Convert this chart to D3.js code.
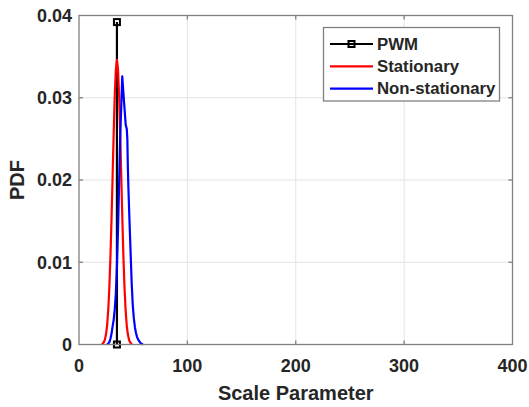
<!DOCTYPE html>
<html>
<head>
<meta charset="utf-8">
<script src="https://cdn.jsdelivr.net/npm/d3@7"></script>
<style>
  body { margin: 0; background: #fff; }
  svg text { font-family: "Liberation Sans", Arial, sans-serif; font-weight: bold; fill: #262626; }
</style>
</head>
<body>
<svg id="chart"></svg>
<script>
// tick values
const xTicks = [0, 100, 200, 300, 400];
const yTicks = [0, 0.01, 0.02, 0.03, 0.04];

// series names (legend order)
const seriesNames = ['PWM', 'Stationary', 'Non-stationary'];

// PWM estimate (vertical stem)
const pwmX = [35, 35];
const pwmY = [0, 0.0392];

// stationary PDF
const statX = [21, 22, 23, 24, 25, 26, 27, 28, 29, 30, 31, 32, 33, 34, 35,
	36, 37, 38, 39, 40, 41, 42, 43, 44, 45, 46, 47, 48, 49];
const statY = [0.00005, 0.00013, 0.0003, 0.00065, 0.0013, 0.0024, 0.0042, 0.0069, 0.0106, 0.0152,
	0.0204, 0.0257, 0.0303, 0.0334, 0.0346, 0.0334, 0.0303, 0.0257, 0.0204, 0.0152,
	0.0106, 0.0069, 0.0042, 0.0024, 0.0013, 0.00065, 0.0003, 0.00013, 0.00005];

// non-stationary PDF
const nonstatX = [26, 27, 28, 29, 30, 31, 32, 33, 34, 35, 36, 37, 38, 39, 39.9,
	41.5, 43.1, 44.1, 44.6, 45.1, 45.6, 46.6, 47.6, 48.6, 49.6, 50.6, 51.6, 52.6,
	53.6, 54.6, 55.6, 56.6, 57.6, 59];
const nonstatY = [0, 0.0001, 0.0003, 0.0007, 0.0013, 0.0022, 0.003, 0.0043, 0.0062, 0.0095,
	0.014, 0.0195, 0.0252, 0.029, 0.0326, 0.0296, 0.0267, 0.0262, 0.025, 0.0215,
	0.019, 0.015, 0.0112, 0.0075, 0.0048, 0.0032, 0.0021, 0.0014, 0.0009, 0.0006,
	0.0004, 0.0002, 0.0001, 0];

const width = 529, height = 407;
const plotL = 79, plotR = 512.5, plotT = 15.5, plotB = 344.5;

const svg = d3.select('#chart')
	.attr('width', width)
	.attr('height', height);

const x = d3.scaleLinear().domain([0, 400]).range([plotL, plotR]);
const y = d3.scaleLinear().domain([0, 0.04]).range([plotB, plotT]);

// grid
const grid = svg.append('g');
grid.selectAll('line.gx')
	.data(xTicks.slice(1, -1))
	.join('line')
	.attr('class', 'gx')
	.attr('x1', d => x(d)).attr('x2', d => x(d))
	.attr('y1', plotT).attr('y2', plotB)
	.attr('stroke', '#e3e3e3').attr('stroke-width', 1);
grid.selectAll('line.gy')
	.data(yTicks.slice(1, -1))
	.join('line')
	.attr('class', 'gy')
	.attr('x1', plotL).attr('x2', plotR)
	.attr('y1', d => y(d)).attr('y2', d => y(d))
	.attr('stroke', '#e3e3e3').attr('stroke-width', 1);

// curves
const line = d3.line().x(d => x(d[0])).y(d => y(d[1]));
const series = [
	{ name: seriesNames[0], xs: pwmX, ys: pwmY, color: '#000000' },
	{ name: seriesNames[1], xs: statX, ys: statY, color: '#ff0000' },
	{ name: seriesNames[2], xs: nonstatX, ys: nonstatY, color: '#0000ff' }
];
series.forEach(s => {
	svg.append('path')
		.datum(d3.zip(s.xs, s.ys))
		.attr('d', line)
		.attr('fill', 'none')
		.attr('stroke', s.color)
		.attr('stroke-width', 2.2)
		.attr('stroke-linejoin', 'round');
});

// PWM square markers
svg.append('g')
	.selectAll('rect')
	.data(d3.zip(pwmX, pwmY))
	.join('rect')
	.attr('x', d => x(d[0]) - 3)
	.attr('y', d => y(d[1]) - 3)
	.attr('width', 6).attr('height', 6)
	.attr('fill', 'none')
	.attr('stroke', '#000')
	.attr('stroke-width', 2);

// axes box
svg.append('rect')
	.attr('x', plotL).attr('y', plotT)
	.attr('width', plotR - plotL).attr('height', plotB - plotT)
	.attr('fill', 'none')
	.attr('stroke', '#808080')
	.attr('stroke-width', 1.3);

// inner ticks
const tickLen = 4;
const ticks = svg.append('g').attr('stroke', '#808080').attr('stroke-width', 1.3);
xTicks.slice(1, -1).forEach(d => {
	ticks.append('line').attr('x1', x(d)).attr('x2', x(d)).attr('y1', plotB).attr('y2', plotB - tickLen);
	ticks.append('line').attr('x1', x(d)).attr('x2', x(d)).attr('y1', plotT).attr('y2', plotT + tickLen);
});
yTicks.slice(1, -1).forEach(d => {
	ticks.append('line').attr('x1', plotL).attr('x2', plotL + tickLen).attr('y1', y(d)).attr('y2', y(d));
	ticks.append('line').attr('x1', plotR).attr('x2', plotR - tickLen).attr('y1', y(d)).attr('y2', y(d));
});

// tick labels
svg.append('g')
	.selectAll('text')
	.data(xTicks)
	.join('text')
	.attr('x', d => x(d))
	.attr('y', 372)
	.attr('text-anchor', 'middle')
	.style('font-size', '18px')
	.text(d => d);
svg.append('g')
	.selectAll('text')
	.data(yTicks)
	.join('text')
	.attr('x', 72)
	.attr('y', d => y(d))
	.attr('dy', '0.35em')
	.attr('text-anchor', 'end')
	.style('font-size', '18px')
	.text(d => d === 0 ? '0' : d.toFixed(2));

// axis titles
svg.append('text')
	.attr('x', (plotL + plotR) / 2)
	.attr('y', 400)
	.attr('text-anchor', 'middle')
	.style('font-size', '20px')
	.text('Scale Parameter');
svg.append('text')
	.attr('transform', `translate(24,${(plotT + plotB) / 2}) rotate(-90)`)
	.attr('text-anchor', 'middle')
	.style('font-size', '20px')
	.text('PDF');

// legend
const legend = svg.append('g');
legend.append('rect')
	.attr('x', 323.5).attr('y', 27.5)
	.attr('width', 176).attr('height', 73.5)
	.attr('fill', '#fff')
	.attr('stroke', '#808080')
	.attr('stroke-width', 1.3);
series.forEach((s, i) => {
	const ly = 44 + i * 22.3;
	legend.append('line')
		.attr('x1', 330).attr('x2', 373)
		.attr('y1', ly).attr('y2', ly)
		.attr('stroke', s.color).attr('stroke-width', 2.2);
	if (i === 0) {
		legend.append('rect')
			.attr('x', 351.5 - 3).attr('y', ly - 3)
			.attr('width', 6).attr('height', 6)
			.attr('fill', 'none').attr('stroke', '#000').attr('stroke-width', 2);
	}
	legend.append('text')
		.attr('x', 377).attr('y', ly)
		.attr('dy', '0.35em')
		.style('font-size', '16.8px')
		.text(s.name);
});
</script>
</body>
</html>
